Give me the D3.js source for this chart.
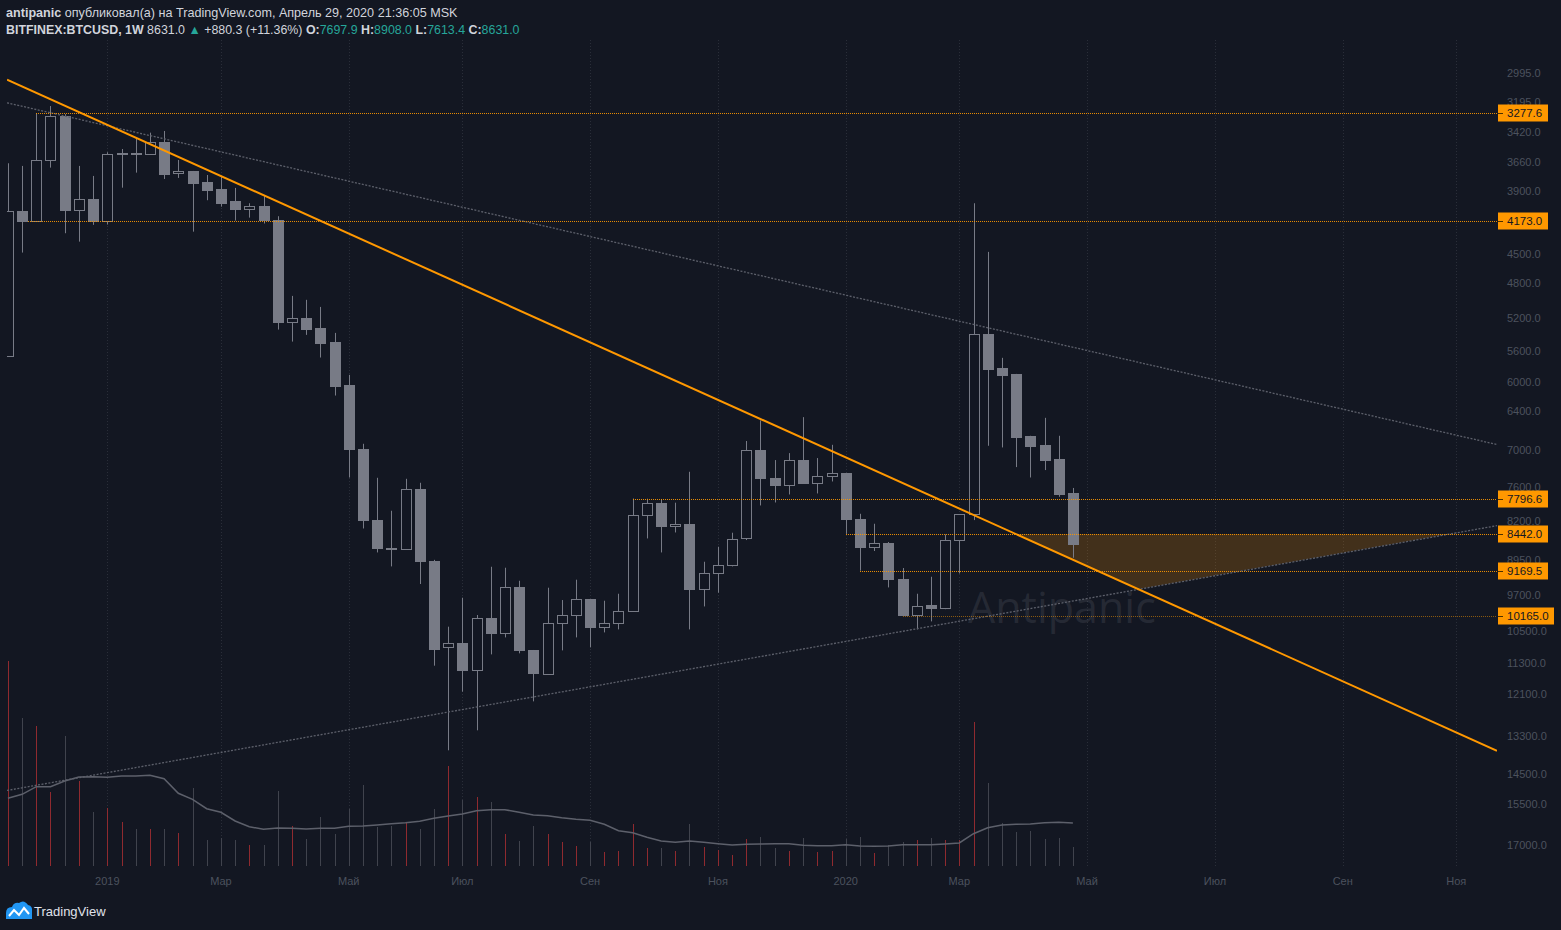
<!DOCTYPE html>
<html><head><meta charset="utf-8">
<script src="https://cdn.jsdelivr.net/npm/d3@7"></script>
<style>html,body{margin:0;padding:0;background:#131722;overflow:hidden}</style>
</head><body><svg id="c" width="1561" height="930"></svg>
<script>
// ---------- DATA ----------
const weeks = ["2018-11-19","2018-11-26","2018-12-03","2018-12-10","2018-12-17","2018-12-24","2018-12-31",
"2019-01-07","2019-01-14","2019-01-21","2019-01-28","2019-02-04","2019-02-11","2019-02-18","2019-02-25",
"2019-03-04","2019-03-11","2019-03-18","2019-03-25","2019-04-01","2019-04-08","2019-04-15","2019-04-22","2019-04-29",
"2019-05-06","2019-05-13","2019-05-20","2019-05-27","2019-06-03","2019-06-10","2019-06-17","2019-06-24",
"2019-07-01","2019-07-08","2019-07-15","2019-07-22","2019-07-29","2019-08-05","2019-08-12","2019-08-19","2019-08-26",
"2019-09-02","2019-09-09","2019-09-16","2019-09-23","2019-09-30","2019-10-07","2019-10-14","2019-10-21","2019-10-28",
"2019-11-04","2019-11-11","2019-11-18","2019-11-25","2019-12-02","2019-12-09","2019-12-16","2019-12-23","2019-12-30",
"2020-01-06","2020-01-13","2020-01-20","2020-01-27","2020-02-03","2020-02-10","2020-02-17","2020-02-24",
"2020-03-02","2020-03-09","2020-03-16","2020-03-23","2020-03-30","2020-04-06","2020-04-13","2020-04-20","2020-04-27"];
const open  = [5656,4082,4172,3642,3299,4075,3976,4172,3593,3580,3593,3498,3752,3731,3822,3887,3991,4063,4039,4168,5236,5193,5310,5480,6038,6980,8184,8705,8730,7632,8968,10895,10791,11477,10200,10561,9514,10962,11570,10316,10132,9774,10410,10316,10041,8092,7876,8290,8258,9555,9220,9060,8521,6990,7441,7565,7146,7530,7412,7360,8163,8700,8618,9340,10141,9900,9983,8560,8074,5386,5810,5890,6770,6910,7140,7697.9];
const high  = [5656,4483,4180,3703,4292,4374,4212,4209,3874,3745,3593,3799,3790,4277,3985,4043,4172,4144,4199,5331,5477,5395,5677,6184,7436,8340,8802,9083,8730,9450,11356,13738,12040,13134,11071,10656,11045,12305,11580,10972,10656,10898,10537,10466,10041,8529,8802,8415,10466,9939,9637,9083,8560,7919,7866,7726,7537,7708,7503,8442,9169.5,8774,9523,10141,10466,10279,10000,9228,8184,6924,6950,7264,7436,7313,7766,8908.0];
const low   = [3667,3689,3277.6,3224,3283,3689,3773,3577,3551,3466,3423,3410,3640,3731,3765,3773,3876,4012,3941,4131,4942,4986,5066,5371,5903,6893,7441,8014,7458,7525,8950,10402,9746,10132,9090,9110,9381,10962,9529,9797,9359,9774,9812,9659,7796.6,7800,7805,7870,7341,8988,8690,8420,6850,6540,7150,7039,6492,7118,6909,7360,8069,8252,8598,9116,9659,9297,8453,8074,4012,4476,5681,5890,6770,6502,6770,7613.4];
const close = [4082,4172,3642,3299,4070,3976,4172,3593,3580,3595,3498,3754,3731,3830,3891,4007,4066,4039,4168,5236,5196,5322,5489,6046,6982,8191,8723,8730,7632,8975,10930,10791,11477,10200,10561,9514,10972,11554,10316,10132,9774,10419,10316,10041,8092,7876,8302,8258,9565,9220,9055,8535,6990,7451,7571,7157,7537,7412,7363,8172,8703,8618,9352,10141,9929,9983,8560,8074,5386,5824,5903,6781,6920,7146,7713,8631.0];
// weekly volume (thousands) and its moving average
const volume = [205,148,140,74,130,85,54,58,44,37,37,37,33,78,26,28,26,21,21,75,40,27,49,32,57,81,39,40,43,37,57,100,66,69,64,32,25,40,32,24,20,24,14,15,42,18,18,15,42,19,16,11,27,29,18,15,28,14,15,27,29,13,21,24,26,28,26,26,144,83,43,34,35,27,28,19];
const volumeMA = [67.7,71.7,79.3,79.3,85,89,89.3,88.7,90,90,90.7,87.3,72.7,66.7,57.3,53.7,45,39.3,36.7,38,37.7,37,37.7,37.7,39.7,40,41,42.3,43.3,44.7,47.7,50,52,55.3,56.3,56.3,53.7,51,50.3,48.3,46.7,45.7,41.7,35.3,33.3,28.7,25,23.7,25,23.7,22.3,21,21.7,22,22.3,22.3,20.7,20.3,20.3,21.3,20,19.7,20,21.3,21.3,21.3,22,23,32.3,38.3,41,41.7,42,43.3,43.7,43];
// price axis ticks
const priceTicks = [2995,3195,3420,3660,3900,4500,4800,5200,5600,6000,6400,7000,7600,8200,8950,9700,10500,11300,12100,13300,14500,15500,17000];
// time axis ticks
const timeTickDates = ["2019-01-07","2019-03-04","2019-05-06","2019-07-01","2019-09-02","2019-11-04","2020-01-06","2020-03-02","2020-05-04","2020-07-06","2020-09-07","2020-11-02"];
const timeTickLabels = ["2019","Мар","Май","Июл","Сен","Ноя","2020","Мар","Май","Июл","Сен","Ноя"];
// horizontal levels: price and start date
const levelPrices = [3277.6,4173.0,7796.6,8442.0,9169.5,10165.0];
const levelStarts = ["2018-12-03","2018-11-29","2019-09-23","2020-01-06","2020-01-13","2020-02-03"];
// trend lines: two anchors each (date, price)
const orangeTrend = [["2018-12-10",3175],["2020-03-09",8090]];
const upperTrend  = [["2018-11-19",3202],["2020-03-09",5270]];
const lowerTrend  = [["2018-11-19",15032],["2020-03-09",10217]];
// triangle vertices (date, price)
const triangle = [["2020-03-30",8442],["2020-05-29",9563],["2020-10-29",8442]];

// ---------- STYLE / LAYOUT ----------
const W=1561,H=930, BG="#131722";
const paneL=7, paneR=1497, paneT=40, paneB=866;
const candleCol="#787b86", axisTextCol="#4c525e", orange="#ff9800", teal="#26a69a";
const FONT="'Liberation Sans', Arial, sans-serif";

const svg=d3.select("#c");
svg.append("rect").attr("width",W).attr("height",H).attr("fill",BG);
const parse=d3.utcParse("%Y-%m-%d");
const x=d3.scaleUtc().domain([parse("2018-11-19"),parse("2020-11-19")]).range([7.9,7.9+731*14.2/7]);
const y=d3.scaleLog().domain([2995,17000]).range([73.3,845]);
const yv=d3.scaleLinear().domain([0,205]).range([866,661]);

svg.append("defs").append("clipPath").attr("id","pane").append("rect")
  .attr("x",paneL).attr("y",paneT).attr("width",paneR-paneL).attr("height",paneB-paneT);
const pane=svg.append("g").attr("clip-path","url(#pane)");

// grid (vertical dotted at time ticks)
timeTickDates.forEach(d=>{
  const gx=Math.round(x(parse(d)))+0.5;
  pane.append("line").attr("x1",gx).attr("x2",gx).attr("y1",paneT).attr("y2",paneB)
    .attr("stroke","#2a2e39").attr("stroke-dasharray","1,2");
});

// watermark
pane.append("text").attr("x",968).attr("y",623).text("Antipanic")
  .attr("font-family","'Open Sans', sans-serif").attr("font-size",43)
  .attr("fill","rgba(120,123,134,0.2)");

// triangle
pane.append("polygon").attr("points",triangle.map(p=>[x(parse(p[0])),y(p[1])].join(",")).join(" "))
  .attr("fill","rgba(255,152,0,0.2)");

// volume
weeks.forEach((w,i)=>{
  const vx=Math.round(x(parse(w)))+0.5;
  pane.append("line").attr("x1",vx).attr("x2",vx).attr("y1",yv(0)).attr("y2",yv(volume[i]))
    .attr("stroke", close[i]<open[i] ? "#8f2a2f" : "#40434d").attr("stroke-width",1);
});
pane.append("path").datum(volumeMA)
  .attr("d",d3.line().x((d,i)=>x(parse(weeks[i]))).y(d=>yv(d)))
  .attr("fill","none").attr("stroke","#5d606b").attr("stroke-width",1.5);

// candles
weeks.forEach((w,i)=>{
  const cx=Math.round(x(parse(w)))+0.5;
  const up=close[i]>=open[i];
  pane.append("line").attr("x1",cx).attr("x2",cx).attr("y1",y(low[i])).attr("y2",y(high[i]))
    .attr("stroke",candleCol).attr("stroke-width",1);
  const yo=y(open[i]), yc=y(close[i]);
  const top=Math.round(Math.min(yo,yc))+0.5, bot=Math.round(Math.max(yo,yc))+0.5;
  pane.append("rect").attr("x",cx-5).attr("y",top).attr("width",10).attr("height",Math.max(1,bot-top))
    .attr("fill",up?candleCol:BG).attr("stroke",candleCol).attr("stroke-width",1);
});

// trend lines, extended to pane edges
function extended(anchors){
  const x1=x(parse(anchors[0][0])), y1=y(anchors[0][1]);
  const x2=x(parse(anchors[1][0])), y2=y(anchors[1][1]);
  const k=(y2-y1)/(x2-x1);
  return [[paneL,y1+(paneL-x1)*k],[paneR,y1+(paneR-x1)*k]];
}
[upperTrend,lowerTrend].forEach(t=>{
  const p=extended(t);
  pane.append("line").attr("x1",p[0][0]).attr("y1",p[0][1]).attr("x2",p[1][0]).attr("y2",p[1][1])
    .attr("stroke","#5d606b").attr("stroke-width",1.3).attr("stroke-dasharray","2,1.5");
});
{
  const p=extended(orangeTrend);
  pane.append("line").attr("x1",p[0][0]).attr("y1",p[0][1]).attr("x2",p[1][0]).attr("y2",p[1][1])
    .attr("stroke",orange).attr("stroke-width",2);
}

// horizontal levels
levelPrices.forEach((p,i)=>{
  const ly=Math.round(y(p))+0.5;
  pane.append("line").attr("x1",Math.round(x(parse(levelStarts[i])))).attr("x2",paneR).attr("y1",ly).attr("y2",ly)
    .attr("stroke",orange).attr("stroke-width",1).attr("stroke-dasharray","1,1")
    .attr("opacity", i===5?0.5:0.9);
});

// price axis labels
priceTicks.forEach(p=>{
  svg.append("text").attr("x",1507).attr("y",y(p)).attr("dy","0.35em").text(p.toFixed(1))
    .attr("font-family",FONT).attr("font-size",11).attr("fill",axisTextCol);
});
// level badges
levelPrices.forEach(p=>{
  const by=Math.round(y(p));
  const label=p.toFixed(1);
  const w=label.length>6?56:50;
  svg.append("rect").attr("x",1498).attr("y",by-8.5).attr("width",w).attr("height",17).attr("fill",orange);
  svg.append("line").attr("x1",1498).attr("x2",1503).attr("y1",by+0.5).attr("y2",by+0.5).attr("stroke","#4a3000");
  svg.append("text").attr("x",1507).attr("y",by).attr("dy","0.36em").text(label)
    .attr("font-family",FONT).attr("font-size",11.5).attr("fill","#131722");
});

// time axis labels
timeTickDates.forEach((d,i)=>{
  svg.append("text").attr("x",x(parse(d))).attr("y",881).attr("dy","0.35em").attr("text-anchor","middle")
    .text(timeTickLabels[i]).attr("font-family",FONT).attr("font-size",11).attr("fill",axisTextCol);
});

// header
const h1=svg.append("text").attr("x",6).attr("y",17).attr("font-family",FONT).attr("font-size",12.6).attr("fill","#d1d4dc");
h1.append("tspan").attr("font-weight","bold").text("antipanic");
h1.append("tspan").text(" опубликовал(а) на TradingView.com, Апрель 29, 2020 21:36:05 MSK");
const h2=svg.append("text").attr("x",6).attr("y",34).attr("font-family",FONT).attr("font-size",12.4).attr("fill","#d1d4dc");
h2.append("tspan").attr("font-weight","bold").text("BITFINEX:BTCUSD, 1W");
h2.append("tspan").text(" 8631.0 ");
h2.append("tspan").attr("fill",teal).text("▲");
h2.append("tspan").text(" +880.3 (+11.36%) ");
[["O:","7697.9"],["H:","8908.0"],["L:","7613.4"],["C:","8631.0"]].forEach((kv,i)=>{
  h2.append("tspan").attr("font-weight","bold").text((i?" ":"")+kv[0]);
  h2.append("tspan").attr("fill",teal).text(kv[1]);
});

// TradingView logo
const logo=svg.append("g");
logo.append("path").attr("d","M6,919 L6,913 Q6,907 12,907 Q14,902 19,903 Q24,899 28,905 Q33,906 32,912 L32,919 Z").attr("fill","#2196f3");
logo.append("path").attr("d","M9,916 L14,910 L19,915 L24,908 L29,914").attr("fill","none").attr("stroke","#fff").attr("stroke-width",2);
svg.append("text").attr("x",34).attr("y",911).attr("dy","0.36em").text("TradingView")
  .attr("font-family",FONT).attr("font-size",13).attr("fill","#e0e3eb");
</script></body></html>
